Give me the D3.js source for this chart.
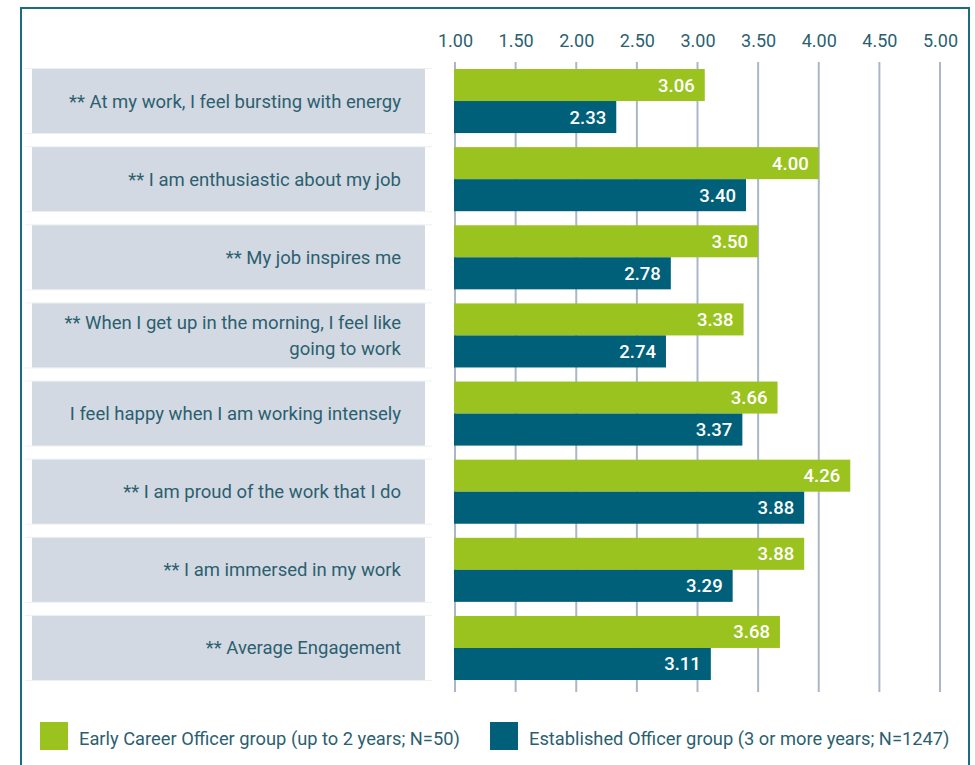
<!DOCTYPE html>
<html>
<head>
<meta charset="utf-8">
<script src="https://cdn.jsdelivr.net/npm/d3@7"></script>
<style>
  html, body { margin: 0; padding: 0; background: #ffffff; }
  svg { display: block; }
  text { font-family: "Roboto", "Liberation Sans", sans-serif; }
</style>
</head>
<body>
<svg id="chart" width="975" height="765"></svg>
<script>
// Engagement statements (rows, top to bottom); "\n" splits a label onto two lines
const categories = [
  "** At my work, I feel bursting with energy",
  "** I am enthusiastic about my job",
  "** My job inspires me",
  "** When I get up in the morning, I feel like\ngoing to work",
  "I feel happy when I am working intensely",
  "** I am proud of the work that I do",
  "** I am immersed in my work",
  "** Average Engagement"
];
const earlyCareer = [3.06, 4.00, 3.50, 3.38, 3.66, 4.26, 3.88, 3.68];
const established = [2.33, 3.40, 2.78, 2.74, 3.37, 3.88, 3.29, 3.11];
const seriesNames = [
  "Early Career Officer group (up to 2 years; N=50)",
  "Established Officer group (3 or more years; N=1247)"
];
const tickValues = [1.0, 1.5, 2.0, 2.5, 3.0, 3.5, 4.0, 4.5, 5.0];

const GREEN = "#9bc31f";
const TEAL = "#00607a";
const TEXT = "#2b5f70";
const GRID = "#aab7c8";
const BOX = "#d3d9e2";

const svg = d3.select("#chart");

// outer frame (open at the bottom edge of the page)
svg.append("path")
  .attr("d", "M21,770 L21,8 L969,8 L969,770")
  .attr("fill", "none")
  .attr("stroke", "#1c6b7e")
  .attr("stroke-width", 2);

const x = d3.scaleLinear().domain([1, 5]).range([455, 940]);
const y = d3.scaleBand().domain(categories).range([69, 680]).paddingInner(0.18);
const sub = d3.scaleBand().domain([0, 1]).range([0, y.bandwidth()]);

// vertical gridlines
svg.append("g").selectAll("line")
  .data(tickValues)
  .join("line")
  .attr("x1", d => x(d)).attr("x2", d => x(d))
  .attr("y1", 62).attr("y2", 692)
  .attr("stroke", GRID)
  .attr("stroke-width", 2);

// top axis labels
const axis = d3.axisTop(x).tickValues(tickValues).tickFormat(d3.format(".2f")).tickSize(0);
const axisG = svg.append("g").attr("transform", "translate(0,47)").call(axis);
axisG.select(".domain").remove();
axisG.selectAll("text")
  .attr("fill", TEXT)
  .attr("font-size", 18)
  .attr("dy", 0)
  .attr("y", 0);

// category label boxes
const rows = svg.append("g").selectAll("g")
  .data(categories)
  .join("g")
  .attr("transform", d => `translate(0,${y(d)})`);

rows.append("line")
  .attr("x1", 25).attr("x2", 432).attr("y1", -0.5).attr("y2", -0.5)
  .attr("stroke", "#eef0f3").attr("stroke-width", 1);
rows.append("line")
  .attr("x1", 25).attr("x2", 432).attr("y1", y.bandwidth() + 0.5).attr("y2", y.bandwidth() + 0.5)
  .attr("stroke", "#eef0f3").attr("stroke-width", 1);

rows.append("rect")
  .attr("x", 32).attr("width", 393)
  .attr("y", 0).attr("height", y.bandwidth())
  .attr("fill", BOX);

rows.append("text")
  .attr("text-anchor", "end")
  .attr("fill", TEXT)
  .attr("font-size", 18.5)
  .each(function(d) {
    const lines = d.split("\n");
    const t = d3.select(this);
    const lh = 26;
    const start = y.bandwidth() / 2 - (lines.length - 1) * lh / 2 + 6.5;
    lines.forEach((ln, i) => {
      t.append("tspan").attr("x", 401).attr("y", start + i * lh).text(ln);
    });
  });

// bars
const series = [earlyCareer, established];
const colors = [GREEN, TEAL];
series.forEach((vals, si) => {
  const g = svg.append("g");
  g.selectAll("rect")
    .data(vals)
    .join("rect")
    .attr("x", x(1) - 1)
    .attr("y", (d, i) => y(categories[i]) + sub(si))
    .attr("width", d => x(d) - x(1) + 1)
    .attr("height", sub.bandwidth())
    .attr("fill", colors[si]);
  g.selectAll("text")
    .data(vals)
    .join("text")
    .attr("x", d => x(d) - 10)
    .attr("y", (d, i) => y(categories[i]) + sub(si) + sub.bandwidth() / 2 + 6.5)
    .attr("text-anchor", "end")
    .attr("fill", "#ffffff")
    .attr("font-size", 18.5)
    .attr("font-weight", 500)
    .text(d => d3.format(".2f")(d));
});

// legend
const legend = svg.append("g").selectAll("g")
  .data(seriesNames)
  .join("g")
  .attr("transform", (d, i) => `translate(${i === 0 ? 40 : 490},722)`);
legend.append("rect")
  .attr("width", 28).attr("height", 28)
  .attr("fill", (d, i) => colors[i]);
legend.append("text")
  .attr("x", 39).attr("y", 23)
  .attr("fill", TEXT)
  .attr("font-size", 18.3)
  .text(d => d);
</script>
</body>
</html>
